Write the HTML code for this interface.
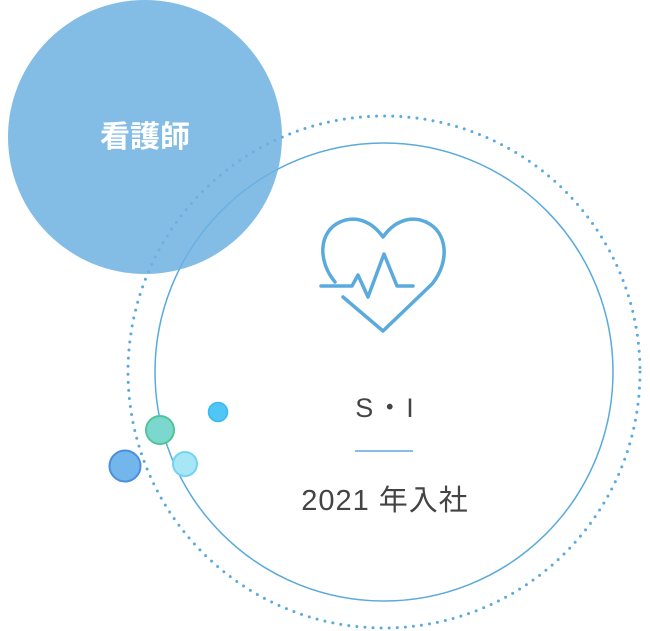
<!DOCTYPE html>
<html><head><meta charset="utf-8"><style>
html,body{margin:0;padding:0;background:#fff;width:650px;height:631px;overflow:hidden}
svg{display:block}
</style></head><body>
<svg width="650" height="631" viewBox="0 0 650 631" xmlns="http://www.w3.org/2000/svg">
<circle cx="384" cy="372" r="256" fill="none" stroke="#5aaadd" stroke-width="3" stroke-linecap="round" stroke-dasharray="0 8.1"/>
<circle cx="384" cy="372" r="229" fill="none" stroke="#5aaadd" stroke-width="1.5"/>
<circle cx="145" cy="137" r="137" fill="#6db1e0" fill-opacity="0.85"/>
<text x="145" y="147" text-anchor="middle" font-family="'Liberation Sans','Noto Sans CJK JP',sans-serif" font-size="30" font-weight="bold" fill="#fff">看護師</text>
<g fill="none" stroke="#5aaadd" stroke-width="3.5" stroke-linecap="round" stroke-linejoin="round">
<path d="M335,282 C318,262 318,232 340,222 C358,214 374,224 383,237 C392,224 408,214 426,222 C448,232 450,262 432,284 L383,331 L343,297"/>
<path d="M321,286 L352,286 L358,275 L368,297 L384,254 L397,286 L413,286"/>
</g>
<text x="386" y="417" text-anchor="middle" font-family="'Liberation Sans','Noto Sans CJK JP',sans-serif" font-size="27" fill="#444" letter-spacing="3">S・I</text>
<line x1="355" y1="451" x2="413" y2="451" stroke="#5aaadd" stroke-width="1.5"/>
<text x="385" y="510" text-anchor="middle" font-family="'Liberation Sans','Noto Sans CJK JP',sans-serif" font-size="29" fill="#444" letter-spacing="1">2021 年入社</text>
<circle cx="125" cy="466" r="15.5" fill="#72b6ec" stroke="#4a8fdc" stroke-width="2"/>
<circle cx="160" cy="430" r="14" fill="#7cd8cf" stroke="#4fc595" stroke-width="2"/>
<circle cx="185" cy="464" r="12" fill="#a7e6f7" stroke="#72d4f0" stroke-width="2"/>
<circle cx="218" cy="412" r="9.5" fill="#4fc6f6" stroke="#39b8f2" stroke-width="1.5"/>
</svg>
</body></html>
